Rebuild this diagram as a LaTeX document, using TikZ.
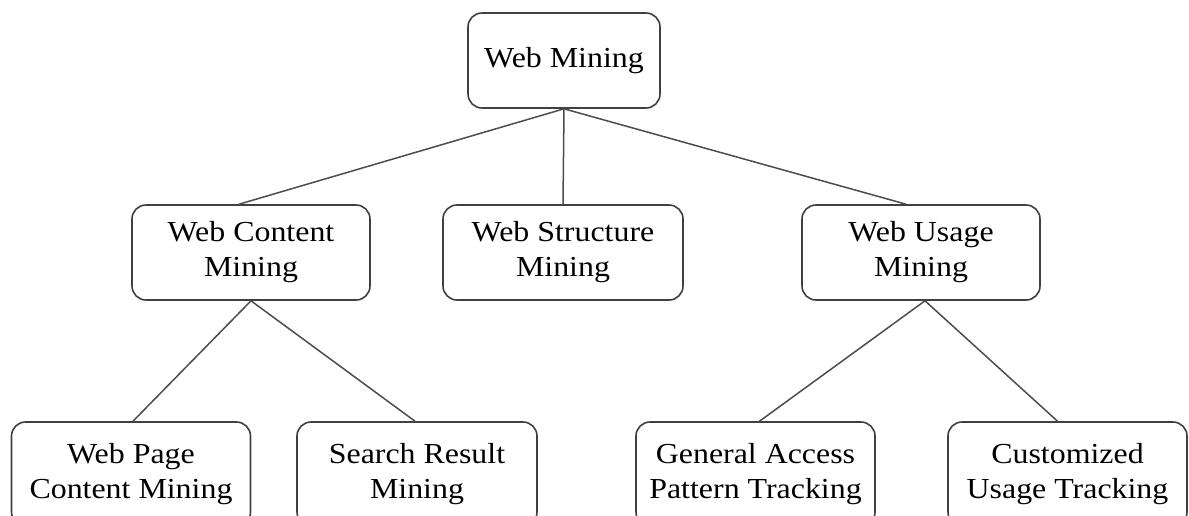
\documentclass[tikz,border=0pt]{standalone}
\usepackage{fontspec}
\setmainfont[FakeStretch=1.1]{Liberation Serif}
\begin{document}
\begin{tikzpicture}[x=1pt,y=-1pt,
  box/.style={draw=black!75, line width=1.6pt, rounded corners=14pt, fill=white,
    align=center, font=\fontsize{29}{35}\selectfont, inner sep=0pt},
  link/.style={draw=black!70, line width=1.5pt}]
\useasboundingbox (0,0) rectangle (1189,515);
\clip (0,0) rectangle (1189,515);
% root
\node[box, minimum width=192pt, minimum height=95pt] (wm) at (564,60.5) {Web Mining};
% second level
\node[box, minimum width=238pt, minimum height=95pt] (wcm) at (251,252.5) {Web Content\\Mining};
\node[box, minimum width=240pt, minimum height=95pt] (wsm) at (563,252.5) {Web Structure\\Mining};
\node[box, minimum width=238pt, minimum height=95pt] (wum) at (921,252.5) {Web Usage\\Mining};
% third level (boxes run past the lower edge)
\node[box, minimum width=239pt, minimum height=104pt] (wpc) at (131,474) {Web Page\\Content Mining};
\node[box, minimum width=240pt, minimum height=104pt] (srm) at (417,474) {Search Result\\Mining};
\node[box, minimum width=239pt, minimum height=104pt] (gap) at (755.5,474) {General Access\\Pattern Tracking};
\node[box, minimum width=239pt, minimum height=104pt] (cut) at (1067.5,474) {Customized\\Usage Tracking};
% connectors
\coordinate (wmb) at (wm.south);
\draw[link] (wmb) -- ([xshift=-12pt]wcm.north);
\draw[link] (wmb) -- (wsm.north);
\draw[link] (wmb) -- ([xshift=-15pt]wum.north);
\draw[link] (wcm.south) -- ([xshift=2pt]wpc.north);
\draw[link] (wcm.south) -- ([xshift=-2pt]srm.north);
\draw[link] ([xshift=4pt]wum.south) -- ([xshift=4pt]gap.north);
\draw[link] ([xshift=4pt]wum.south) -- ([xshift=-10pt]cut.north);
\end{tikzpicture}
\end{document}
